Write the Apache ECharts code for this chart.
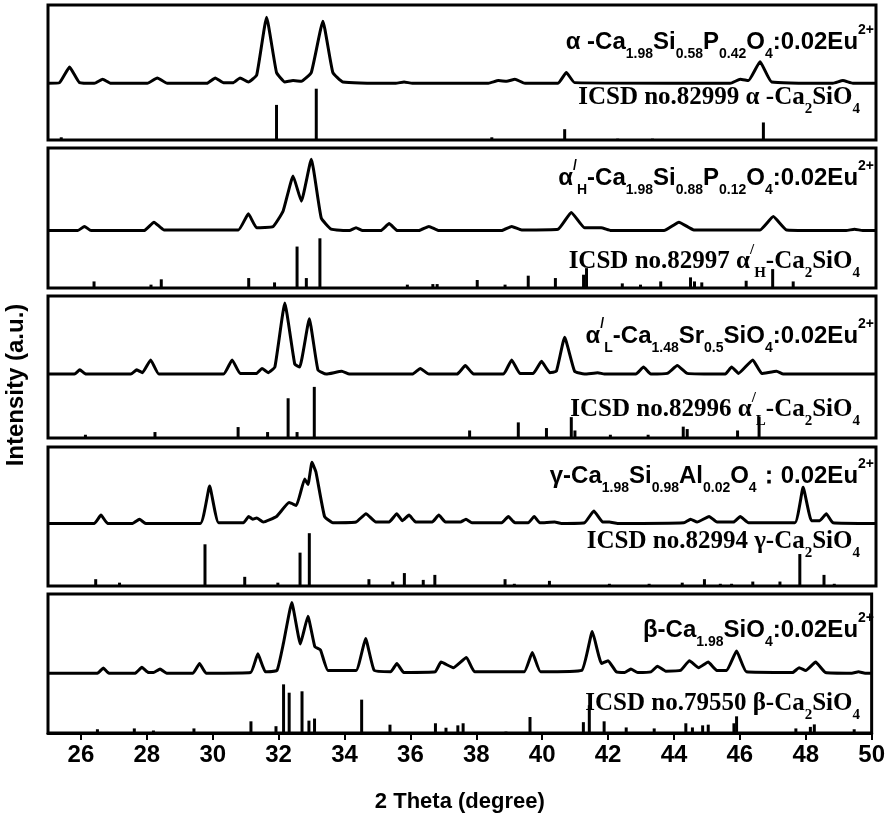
<!DOCTYPE html>
<html><head><meta charset="utf-8">
<script src="https://cdn.jsdelivr.net/npm/echarts@6/dist/echarts.min.js"></script>
<style>html,body{margin:0;padding:0;background:#fff}#c{width:888px;height:832px}</style>
</head><body><div id="c"></div>
<script>
const xTicks = [26,28,30,32,34,36,38,40,42,44,46,48,50];
const pattern1 = [[25,42],[25.35,42.5],[25.65,54],[25.95,42.5],[26.4,42],[26.65,45],[26.9,42],[28.0,42],[28.3,46],[28.6,42],[29.8,42],[30.05,46],[30.3,42.5],[30.6,42.5],[30.8,46],[31.05,43],[31.3,48],[31.6,91],[31.9,50],[32.15,43],[32.4,44],[32.65,43.5],[32.95,50],[33.3,88],[33.6,50],[33.9,43],[35.5,42],[35.75,43],[36,42],[38.3,42],[38.6,44],[38.85,43.5],[39.1,45],[39.4,42],[40.4,42],[40.65,50],[40.9,42.5],[45.6,42],[45.9,45],[46.15,44],[46.5,58],[46.85,43],[48.7,42],[49,44],[49.3,42],[50,42]];
const sticks1 = [[25.4,2],[31.9,26],[33.1,38],[38.4,2],[40.6,8],[42.2,1],[43.25,1],[46.6,13]];
const pattern2 = [[25,41],[25.9,41],[26.1,44],[26.3,41],[27.9,41],[28.2,47],[28.5,41.5],[30.75,41.5],[31.05,53],[31.3,43],[31.8,44],[32.1,55],[32.4,80],[32.65,62],[32.95,92],[33.25,50],[33.55,42],[34.1,41],[34.3,43],[34.5,41],[35.05,41],[35.3,46],[35.55,41],[36.2,41],[36.5,44],[36.8,41],[38.7,41],[39,44],[39.3,41.5],[40.4,42],[40.8,54],[41.2,43],[41.7,43],[42,41],[43.6,41],[44.05,47],[44.5,41.5],[46.5,41.5],[46.9,51],[47.3,41.5],[49.1,41],[49.35,42],[49.6,41],[50,41]];
const sticks2 = [[26.39,4.7],[28.11,2.4],[28.42,6.2],[31.06,7.1],[31.84,4],[32.52,29.6],[32.8,7.1],[33.21,35.5],[35.85,2.4],[36.62,2.8],[36.75,2.8],[37.96,5.7],[38.8,2.4],[39.5,8.8],[40.32,7.1],[41.17,9.5],[41.26,14.2],[42.34,3.3],[42.89,2.4],[43.5,4.7],[44.4,7.6],[44.52,4.7],[44.74,4],[46.08,5.2],[46.88,13.5],[47.5,4.7]];
const pattern3 = [[25,45],[25.8,45],[25.96,48],[26.15,45],[27.5,45],[27.68,48],[27.85,46],[28.1,55],[28.35,45],[30.3,45],[30.56,55],[30.8,45.5],[31.3,45.5],[31.46,49],[31.65,46],[31.85,50],[32.15,95],[32.45,52],[32.6,50],[32.89,84],[33.15,48],[33.4,45],[33.87,47],[34.1,45],[36,45],[36.24,49],[36.5,45],[37.35,45],[37.6,51],[37.85,45],[38.75,45],[39,55],[39.25,45.5],[39.65,45.5],[39.9,54],[40.15,46],[40.35,47],[40.6,71],[40.9,47],[41.2,45],[41.6,46],[41.8,45],[42.75,45],[42.98,50],[43.2,45],[43.7,45.5],[44,51],[44.3,45.5],[45.45,45],[45.64,50],[45.85,45.5],[46.28,55],[46.55,45.5],[47,47],[47.2,45],[50,45]];
const sticks3 = [[26.13,2.3],[28.23,4.2],[30.74,7.7],[31.63,4.2],[32.25,28],[32.52,4.2],[33.04,36],[37.73,5.3],[39.2,11],[40.05,7],[40.8,14.7],[40.91,5.3],[41.98,2.3],[43.12,2.3],[44.18,8],[44.3,6.3],[45.82,5.3],[46.47,15]];
const pattern4 = [[25,45],[26.4,45],[26.6,51],[26.8,45],[27.55,45],[27.76,48],[27.95,45],[29.6,45],[29.88,72],[30.15,45.5],[30.9,45.5],[31.06,50],[31.18,48],[31.3,49],[31.5,46],[31.9,50],[32.28,60],[32.5,58],[32.75,77],[32.85,73],[32.97,89],[33.09,82],[33.35,50],[33.6,45.5],[34.3,46],[34.6,52],[34.9,46],[35.3,46],[35.53,52],[35.7,47],[35.9,51],[36.1,46],[36.6,46],[36.8,51],[37.0,46],[37.45,46],[37.62,48],[37.8,45.5],[38.7,45.5],[38.9,50],[39.1,45.5],[39.5,45.5],[39.68,50],[39.85,45.5],[40.3,46],[40.5,45],[41.2,45.5],[41.48,54],[41.75,46],[41.95,46],[42.2,45],[44.2,45.5],[44.4,48],[44.6,46],[44.96,50],[45.2,46],[45.7,46],[45.9,50],[46.15,45.5],[47.55,45.5],[47.8,71],[48.05,47],[48.3,47],[48.5,52],[48.7,45.5],[50,45]];
const sticks4 = [[26.44,4.9],[27.16,2.4],[29.74,30],[30.94,6.6],[31.94,2.4],[32.61,24],[32.89,38],[34.69,4.9],[35.41,3.2],[35.76,9.3],[36.33,4.4],[36.68,8],[38.8,4.9],[39.08,1.6],[40.14,3.7],[41.95,1.6],[43.15,1.6],[44.15,2.4],[44.82,4.9],[45.3,1.6],[45.64,1.6],[46.28,3.2],[47.1,3.2],[47.7,23],[48.43,8],[48.74,1.6]];
const pattern5 = [[25,43],[26.5,43],[26.68,46.7],[26.85,43],[27.65,43],[27.85,47.3],[28.05,43.5],[28.2,43.5],[28.4,46],[28.6,43],[29.4,43],[29.6,50],[29.8,43],[31.15,43.5],[31.37,57],[31.6,44],[31.95,45],[32.15,65],[32.4,93.8],[32.66,64],[32.89,84],[33.1,62],[33.27,59.8],[33.5,45],[34.35,45],[34.64,68],[34.9,45],[35.4,44],[35.59,50],[35.8,43.5],[36.75,44],[36.93,51],[37.3,47],[37.7,54.4],[37.95,44],[39.45,44],[39.7,58],[39.95,44],[41.2,45],[41.52,73],[41.8,50],[42,52],[42.25,44],[42.5,43.5],[42.69,46],[42.9,43.5],[43.3,44],[43.5,48],[43.75,44.5],[44.2,45],[44.47,52],[44.75,47],[45.04,51],[45.3,45],[45.6,45],[45.9,59],[46.2,44],[47.6,43.5],[47.8,47],[48,45],[48.3,51],[48.6,43.5],[49.4,43],[49.6,44],[49.8,43],[50,43]];
const sticks5 = [[26.5,2.7],[27.62,3.3],[28.2,1.8],[29.43,3.3],[31.16,8.4],[31.92,4.9],[32.15,35],[32.32,29],[32.71,30],[32.92,8.9],[33.09,10.4],[34.52,24],[35.38,6],[36.76,7],[37.08,3.8],[37.44,5.5],[37.6,7],[38.9,1],[39.63,11.5],[41.25,7.8],[41.43,20],[41.88,8.4],[42.55,4],[43.4,3.3],[44.36,7],[44.56,4],[44.87,5.5],[45.04,6],[45.82,7],[45.9,12],[47.7,3.3],[48.14,4.4],[48.26,6.2],[49.47,2.7]];
const sampleLabels = [
 "{n|α -Ca}{s|1.98}{n|Si}{s|0.58}{n|P}{s|0.42}{n|O}{s|4}{n|:0.02Eu}{p|2+}",
 "{n|α}{p|/}{s|H}{n|-Ca}{s|1.98}{n|Si}{s|0.88}{n|P}{s|0.12}{n|O}{s|4}{n|:0.02Eu}{p|2+}",
 "{n|α}{p|/}{s|L}{n|-Ca}{s|1.48}{n|Sr}{s|0.5}{n|SiO}{s|4}{n|:0.02Eu}{p|2+}",
 "{n|γ-Ca}{s|1.98}{n|Si}{s|0.98}{n|Al}{s|0.02}{n|O}{s|4}{n|：0.02Eu}{p|2+}",
 "{n|β-Ca}{s|1.98}{n|SiO}{s|4}{n|:0.02Eu}{p|2+}"
];
const refLabels = [
 "{t|ICSD no.82999 α -Ca}{ts|2}{t|SiO}{ts|4}",
 "{t|ICSD no.82997 α}{tp|/}{ts|H}{t|-Ca}{ts|2}{t|SiO}{ts|4}",
 "{t|ICSD no.82996 α}{tp|/}{ts|L}{t|-Ca}{ts|2}{t|SiO}{ts|4}",
 "{t|ICSD no.82994 γ-Ca}{ts|2}{t|SiO}{ts|4}",
 "{t|ICSD no.79550 β-Ca}{ts|2}{t|SiO}{ts|4}"
];
const patterns=[pattern1,pattern2,pattern3,pattern4,pattern5];
const sticks=[sticks1,sticks2,sticks3,sticks4,sticks5];
const boxes=[[5,135],[148,140],[296,142],[447,139],[594,139]];
const sampleY=[42,178,336,476,630], refY=[104,262,410,548,710];
const sans='"Liberation Sans", Arial, sans-serif', serif='"Liberation Serif", "Times New Roman", serif';
const rich={
 n:{fontFamily:sans,fontWeight:'bold',fontSize:24,color:'#000',verticalAlign:'middle',lineHeight:38},
 s:{fontFamily:sans,fontWeight:'bold',fontSize:14,color:'#000',verticalAlign:'bottom',lineHeight:38},
 p:{fontFamily:sans,fontWeight:'bold',fontSize:14,color:'#000',verticalAlign:'top',lineHeight:38},
 t:{fontFamily:serif,fontWeight:'bold',fontSize:25,color:'#000',verticalAlign:'middle',lineHeight:38},
 ts:{fontFamily:serif,fontWeight:'bold',fontSize:15,color:'#000',verticalAlign:'bottom',lineHeight:38},
 tp:{fontFamily:serif,fontWeight:'bold',fontSize:15,color:'#000',verticalAlign:'top',lineHeight:38}
};
const grid=[],xAxis=[],yAxis=[],series=[],graphic=[];
boxes.forEach((b,i)=>{
 const last=i===4;
 grid.push({left:48,width:828,top:b[0],height:b[1],show:true,borderColor:'#000',borderWidth:3,backgroundColor:'transparent'});
 xAxis.push({type:'value',gridIndex:i,min:25,max:50,interval:2,
  axisLine:{show:last,lineStyle:{color:'#000',width:3}},
  axisTick:{show:last,length:7,lineStyle:{color:'#000',width:2},customValues:xTicks},
  minorTick:{show:last,splitNumber:2,length:4,lineStyle:{color:'#000',width:2}},
  axisLabel:{show:last,customValues:xTicks,color:'#000',fontFamily:sans,fontWeight:'bold',fontSize:24,margin:10},
  splitLine:{show:false},
  name:last?'2 Theta (degree)':'',nameLocation:'middle',nameGap:58,
  nameTextStyle:{color:'#000',fontFamily:sans,fontWeight:'bold',fontSize:22}});
 yAxis.push({type:'value',gridIndex:i,min:0,max:100,show:false});
 series.push({type:'line',xAxisIndex:i,yAxisIndex:i,data:patterns[i],showSymbol:false,smooth:0.12,
  lineStyle:{color:'#000',width:3},silent:true,z:3});
 series.push({type:'bar',xAxisIndex:i,yAxisIndex:i,data:sticks[i],barWidth:3,itemStyle:{color:'#000'},silent:true,z:2});
 graphic.push({type:'text',right:14,top:sampleY[i]-19,style:{text:sampleLabels[i],rich:rich,align:'right'}});
 graphic.push({type:'text',right:28,top:refY[i]-19,style:{text:refLabels[i],rich:rich,align:'right'}});
});
graphic.push({type:'text',rotation:Math.PI/2,x:16,y:385,style:{text:'Intensity (a.u.)',fill:'#000',font:'bold 24px '+sans,align:'center',verticalAlign:'middle'}});
const chart=echarts.init(document.getElementById('c'),null,{renderer:'canvas'});
chart.setOption({animation:false,backgroundColor:'#fff',grid,xAxis,yAxis,series,graphic});
</script></body></html>
